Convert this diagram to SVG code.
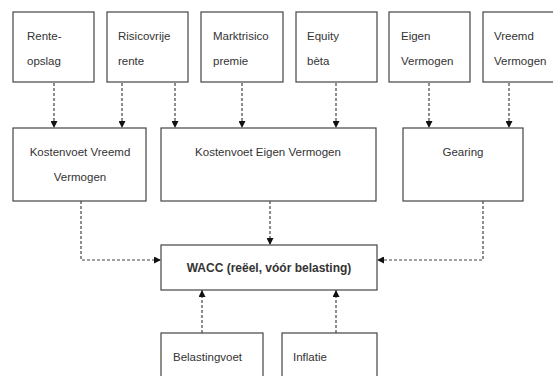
<svg xmlns="http://www.w3.org/2000/svg" width="553" height="376" viewBox="0 0 553 376">
<style>
.box{fill:#fff;stroke:#444;stroke-width:1.2}
.t{font-family:"Liberation Sans",Arial,sans-serif;font-size:11.5px;fill:#333}
.c{text-anchor:middle}
.b{font-weight:bold;font-size:12px}
.con{fill:none;stroke:#444;stroke-width:1.2;stroke-dasharray:3 2}
</style>
<defs>
<marker id="ah" viewBox="0 0 10 10" refX="10" refY="5" markerWidth="7" markerHeight="7" markerUnits="userSpaceOnUse" orient="auto">
<path d="M0,0 L10,5 L0,10 Z" fill="#111"/>
</marker>
</defs>
<rect width="553" height="376" fill="#fff"/>
<g id="connectors">
<path class="con" d="M54,83 V128" marker-end="url(#ah)"/>
<path class="con" d="M122,83 V128" marker-end="url(#ah)"/>
<path class="con" d="M175,83 V128" marker-end="url(#ah)"/>
<path class="con" d="M242,83 V128" marker-end="url(#ah)"/>
<path class="con" d="M336,83 V128" marker-end="url(#ah)"/>
<path class="con" d="M429,83 V128" marker-end="url(#ah)"/>
<path class="con" d="M509,83 V128" marker-end="url(#ah)"/>
<path class="con" d="M81,201 V260 H161" marker-end="url(#ah)"/>
<path class="con" d="M270,201 V245" marker-end="url(#ah)"/>
<path class="con" d="M483,201 V260 H377" marker-end="url(#ah)"/>
<path class="con" d="M202,333 V290" marker-end="url(#ah)"/>
<path class="con" d="M336,333 V290" marker-end="url(#ah)"/>
</g>
<g id="n1"><rect class="box" x="13" y="12" width="81" height="70"/><text class="t" x="27" y="40">Rente-</text><text class="t" x="27" y="65">opslag</text></g>
<g id="n2"><rect class="box" x="107" y="12" width="81" height="70"/><text class="t" x="118" y="40">Risicovrije</text><text class="t" x="118" y="65">rente</text></g>
<g id="n3"><rect class="box" x="201" y="12" width="82" height="70"/><text class="t" x="213" y="40">Marktrisico</text><text class="t" x="213" y="65">premie</text></g>
<g id="n4"><rect class="box" x="296" y="12" width="81" height="70"/><text class="t" x="307" y="40">Equity</text><text class="t" x="307" y="65">bèta</text></g>
<g id="n5"><rect class="box" x="389" y="12" width="81" height="70"/><text class="t" x="401" y="40">Eigen</text><text class="t" x="401" y="65">Vermogen</text></g>
<g id="n6"><rect class="box" x="483" y="12" width="81" height="70"/><text class="t" x="494" y="40">Vreemd</text><text class="t" x="494" y="65">Vermogen</text></g>
<g id="n7"><rect class="box" x="13" y="128" width="133" height="73"/><text class="t c" x="80" y="156">Kostenvoet Vreemd</text><text class="t c" x="80" y="181">Vermogen</text></g>
<g id="n8"><rect class="box" x="161" y="128" width="215" height="73"/><text class="t c" x="268" y="156">Kostenvoet Eigen Vermogen</text></g>
<g id="n9"><rect class="box" x="403" y="128" width="120" height="73"/><text class="t c" x="463" y="156">Gearing</text></g>
<g id="n10"><rect class="box" x="161" y="245" width="216" height="45"/><text class="t c b" x="269" y="272">WACC (reëel, vóór belasting)</text></g>
<g id="n11"><rect class="box" x="161" y="333" width="102" height="50"/><text class="t" x="173" y="361">Belastingvoet</text></g>
<g id="n12"><rect class="box" x="282" y="333" width="95" height="50"/><text class="t" x="293" y="361">Inflatie</text></g>
</svg>
